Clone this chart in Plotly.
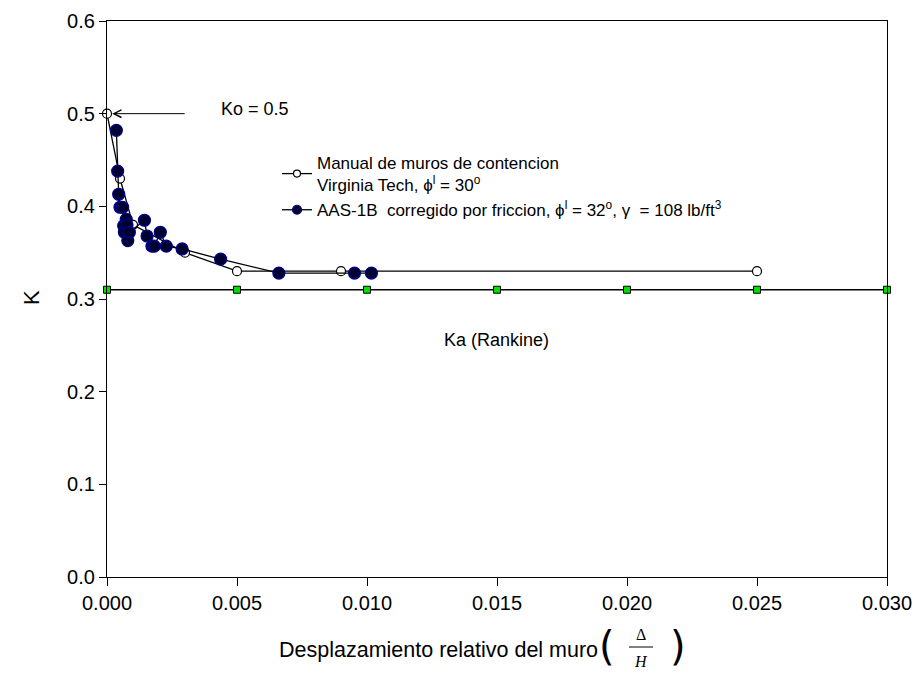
import plotly.graph_objects as go

# Manual de muros de contencion (Virginia Tech)
manual_x = [0.0, 0.0005, 0.001, 0.003, 0.005, 0.009, 0.025]
manual_k = [0.50, 0.43, 0.38, 0.35, 0.33, 0.33, 0.33]

# AAS-1B corregido por friccion
aas_x = [0.00036, 0.00041, 0.00045, 0.0005, 0.0006, 0.00064, 0.00067, 0.00074, 0.00077,
         0.0008, 0.00086, 0.00144, 0.00154, 0.00173, 0.00182, 0.00205, 0.00228, 0.00289,
         0.00437, 0.00661, 0.00952, 0.01017]
aas_k = [0.482, 0.438, 0.413, 0.399, 0.399, 0.379, 0.372, 0.386, 0.380,
         0.363, 0.372, 0.385, 0.368, 0.357, 0.357, 0.372, 0.357, 0.354,
         0.343, 0.328, 0.328, 0.328]

# Ka (Rankine)
ka_x = [0.0, 0.005, 0.010, 0.015, 0.020, 0.025, 0.030]
ka_k = [0.31, 0.31, 0.31, 0.31, 0.31, 0.31, 0.31]

x_ticks = [0.0, 0.005, 0.010, 0.015, 0.020, 0.025, 0.030]
y_ticks = [0.0, 0.1, 0.2, 0.3, 0.4, 0.5, 0.6]

manual_name = "Manual de muros de contencion<br>Virginia Tech, \u03d5<sup>l</sup> = 30<sup>o</sup>"
aas_name = ("AAS-1B  corregido por friccion, \u03d5<sup>l</sup> = 32<sup>o</sup>, "
            "\u03b3  = 108 lb/ft<sup>3</sup>")

FONT = "Liberation Sans, Arial, sans-serif"
# plot area in page pixels
L, R, T, B = 107, 887, 21, 577
W, H = 915, 673

fig = go.Figure()
fig.add_trace(go.Scatter(
    x=ka_x, y=ka_k, mode="lines+markers", showlegend=False,
    line=dict(color="black", width=1.5),
    marker=dict(symbol="square", size=7, color="#00e000", line=dict(color="black", width=1)),
    cliponaxis=False))
fig.add_trace(go.Scatter(
    x=manual_x, y=manual_k, mode="lines+markers", showlegend=False,
    line=dict(color="black", width=1.3),
    marker=dict(symbol="circle", size=9, color="white", line=dict(color="black", width=1.2)),
    cliponaxis=False))
fig.add_trace(go.Scatter(
    x=aas_x, y=aas_k, mode="lines+markers", showlegend=False,
    line=dict(color="black", width=1.3),
    marker=dict(symbol="circle", size=12, color="#000030", line=dict(color="#000090", width=1.2)),
    cliponaxis=False))
# legend entries (smaller symbols, as in the original legend)
fig.add_trace(go.Scatter(
    x=[None], y=[None], mode="lines+markers", name=manual_name,
    line=dict(color="black", width=1.3),
    marker=dict(symbol="circle", size=7, color="white", line=dict(color="black", width=1.2))))
fig.add_trace(go.Scatter(
    x=[None], y=[None], mode="lines+markers", name=aas_name,
    line=dict(color="black", width=1.3),
    marker=dict(symbol="circle", size=9, color="#000030", line=dict(color="#000090", width=1.2))))


def px(xp):
    return (xp - L) / (R - L)


def py(yp):
    return (B - yp) / (B - T)


fig.update_layout(
    width=W, height=H,
    margin=dict(l=L, r=W - R, t=T, b=H - B, pad=0),
    paper_bgcolor="white", plot_bgcolor="white",
    font=dict(family=FONT, size=17, color="black"),
    showlegend=True,
    legend=dict(x=px(277), y=py(145), xanchor="left", yanchor="top",
                bgcolor="rgba(0,0,0,0)", font=dict(size=17), tracegroupgap=1,
                itemwidth=30),
    xaxis=dict(range=[0, 0.030], tickvals=x_ticks, tickformat=".3f", automargin=False,
               showgrid=False, zeroline=False, showline=True, linecolor="black",
               linewidth=1.3, mirror=True, ticks="outside", ticklen=8,
               tickcolor="black", tickfont=dict(size=20)),
    yaxis=dict(range=[0, 0.6], tickvals=y_ticks, tickformat=".1f", automargin=False,
               showgrid=False, zeroline=False, showline=True, linecolor="black",
               linewidth=1.3, mirror=True, ticks="outside", ticklen=7,
               tickcolor="black", tickfont=dict(size=20), ticksuffix="\u00a0"),
)

# Y-axis title
fig.add_annotation(x=px(31), y=py(298), xref="paper", yref="paper", text="K",
                   showarrow=False, textangle=-90, xanchor="center", yanchor="middle",
                   font=dict(size=22))

# Ko annotation with arrow
fig.add_annotation(x=0.0002, y=0.5, xref="x", yref="y", text="", showarrow=True,
                   ax=74, ay=0, arrowhead=5, arrowsize=1.5, arrowwidth=1, arrowcolor="black")
fig.add_annotation(x=px(255), y=py(109), xref="paper", yref="paper", text="Ko = 0.5",
                   showarrow=False, xanchor="center", yanchor="middle", font=dict(size=18))
# Ka label
fig.add_annotation(x=px(496), y=py(340), xref="paper", yref="paper", text="Ka (Rankine)",
                   showarrow=False, xanchor="center", yanchor="middle", font=dict(size=18))

# X-axis title with fraction
fig.add_annotation(x=px(277), y=py(650), xref="paper", yref="paper",
                   text="Desplazamiento relativo del muro", showarrow=False,
                   xanchor="left", yanchor="middle", font=dict(size=21.5))
fig.add_annotation(x=px(607), y=py(646), xref="paper", yref="paper", text="(",
                   showarrow=False, xanchor="center", yanchor="middle",
                   font=dict(size=40, family="DejaVu Sans"))
fig.add_annotation(x=px(678), y=py(646), xref="paper", yref="paper", text=")",
                   showarrow=False, xanchor="center", yanchor="middle",
                   font=dict(size=40, family="DejaVu Sans"))
fig.add_annotation(x=px(641), y=py(634), xref="paper", yref="paper", text="\u0394",
                   showarrow=False, xanchor="center", yanchor="middle",
                   font=dict(size=16, family="Liberation Serif"))
fig.add_annotation(x=px(641), y=py(661), xref="paper", yref="paper", text="<i>H</i>",
                   showarrow=False, xanchor="center", yanchor="middle",
                   font=dict(size=16, family="Liberation Serif"))
fig.add_shape(type="line", xref="paper", yref="paper", x0=px(629), x1=px(653),
              y0=py(647), y1=py(647), line=dict(color="black", width=1))

fig.write_html("out.html", config={"displayModeBar": False},
               post_script="document.body.style.margin='0';document.body.style.overflow='hidden';")
